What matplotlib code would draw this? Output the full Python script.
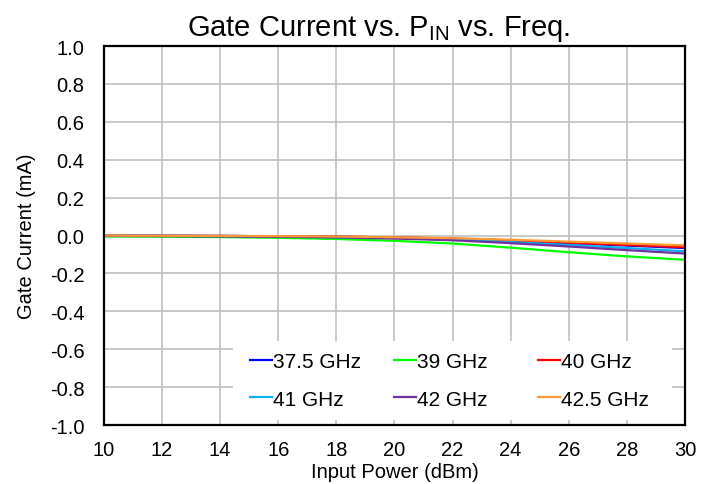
import matplotlib
matplotlib.use("Agg")
import matplotlib.pyplot as plt
from matplotlib.patches import Rectangle

plt.rcParams['font.family'] = ['Liberation Sans', 'DejaVu Sans']
plt.rcParams['mathtext.fontset'] = 'custom'
plt.rcParams['mathtext.rm'] = 'Liberation Sans'

# input power (dBm)
pin = [10, 12, 14, 16, 18, 20, 22, 24, 26, 28, 30]

# gate current (mA) per frequency
ig_375 = [0.000, -0.001, -0.002, -0.004, -0.006, -0.010, -0.017, -0.028, -0.040, -0.053, -0.066]
ig_39 = [-0.005, -0.006, -0.008, -0.012, -0.018, -0.028, -0.042, -0.064, -0.088, -0.110, -0.128]
ig_40 = [0.000, -0.001, -0.002, -0.004, -0.006, -0.010, -0.016, -0.026, -0.038, -0.050, -0.062]
ig_41 = [0.000, -0.001, -0.003, -0.005, -0.008, -0.013, -0.021, -0.034, -0.050, -0.066, -0.083]
ig_42 = [-0.002, -0.003, -0.005, -0.007, -0.010, -0.016, -0.025, -0.040, -0.058, -0.077, -0.095]
ig_425 = [0.000, -0.001, -0.002, -0.003, -0.005, -0.009, -0.014, -0.022, -0.032, -0.042, -0.052]

series = [
    ("37.5 GHz", ig_375, "#0000ff"),
    ("39 GHz", ig_39, "#00ff00"),
    ("40 GHz", ig_40, "#ff0000"),
    ("41 GHz", ig_41, "#00b0f0"),
    ("42 GHz", ig_42, "#7030a0"),
    ("42.5 GHz", ig_425, "#ff9933"),
]

fig = plt.figure(figsize=(7.02, 4.85), dpi=100)
ax = fig.add_axes([0.1481, 0.1216, 0.8276, 0.7814])

lines = {}
for label, vals, col in series:
    lines[label], = ax.plot(pin, vals, color=col, linewidth=1.6, label=label)

ax.set_xlim(10, 30)
ax.set_ylim(-1.0, 1.0)
ax.set_xticks(range(10, 31, 2))
ax.set_yticks([-1.0 + 0.2 * i for i in range(11)])
ax.set_yticklabels([f"{-1.0 + 0.2 * i:.1f}" for i in range(11)])
ax.tick_params(length=0, labelsize=14.5)
ax.tick_params(axis="y", pad=14)
ax.tick_params(axis="x", pad=11)
ax.grid(True, color="#c0c0c0", linewidth=1.2)
for s in ax.spines.values():
    s.set_linewidth(1.6)
    s.set_color("black")

ax.set_xlabel("Input Power (dBm)", fontsize=14.5, labelpad=2)
ax.set_ylabel("Gate Current (mA)", fontsize=14.5, labelpad=10)
ax.set_title(r"Gate Current vs. P$_{\rm IN}$ vs. Freq.", fontsize=21, pad=8, x=0.472)

# white panel behind the legend hides the grid there
ax.add_patch(Rectangle((0.222, 0.013), 0.756, 0.209, transform=ax.transAxes,
                       facecolor="white", edgecolor="none", zorder=2.5))

# legend fills column-wise, so order the entries to read row-wise like the original
order = ["37.5 GHz", "41 GHz", "39 GHz", "42 GHz", "40 GHz", "42.5 GHz"]
labels = [o + "   " if o in ("39 GHz", "42 GHz") else o for o in order]
leg = ax.legend([lines[o] for o in order], labels, ncol=3, loc="center",
                bbox_to_anchor=(0.5947, 0.1174), borderaxespad=0, fontsize=15,
                handlelength=1.05, handletextpad=0.05, columnspacing=1.6,
                labelspacing=0.88, borderpad=0, frameon=False)
leg.set_zorder(3)

fig.savefig("out.png", dpi=100)
